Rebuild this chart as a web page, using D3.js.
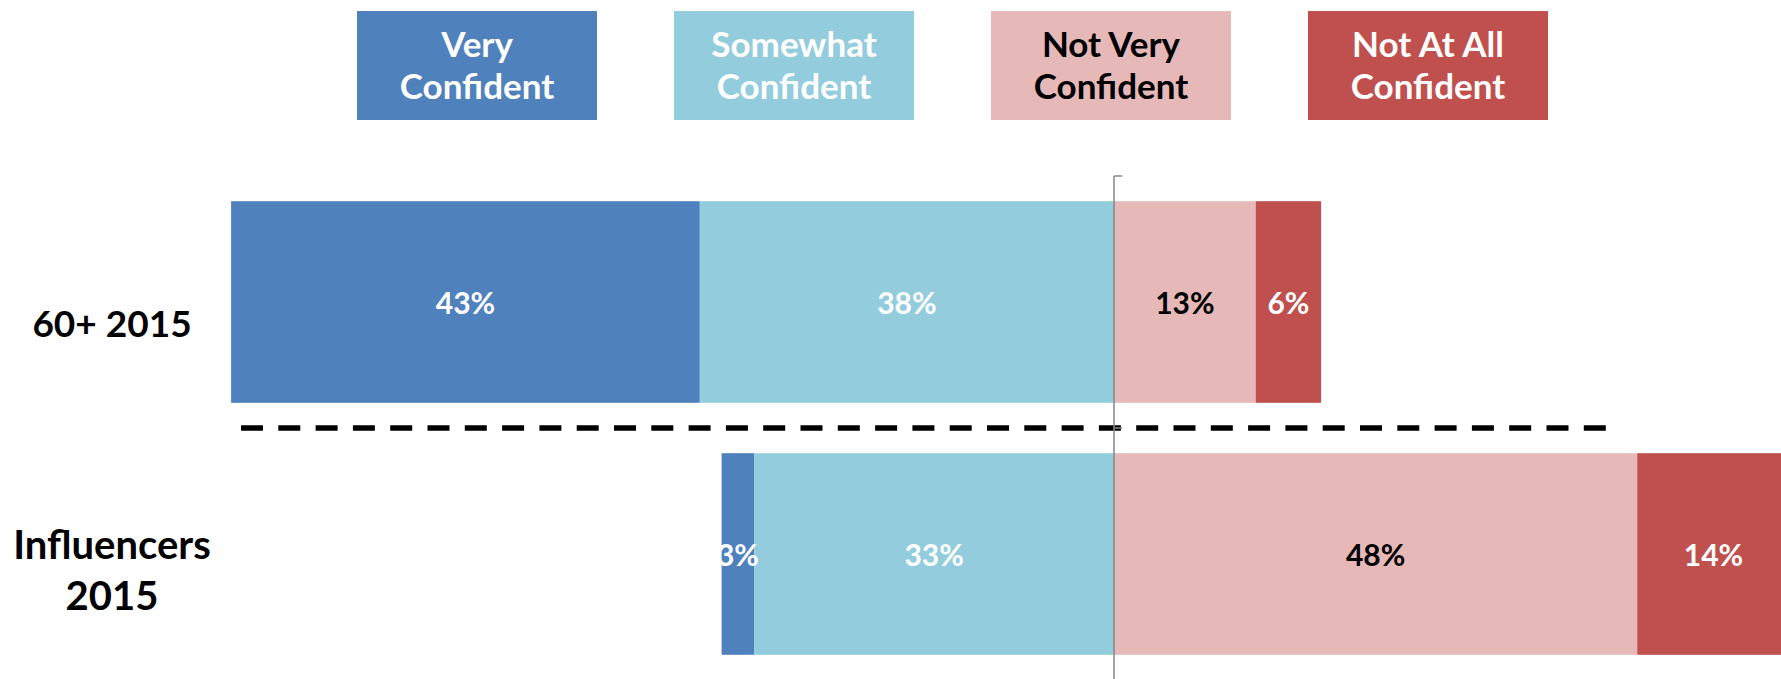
<!DOCTYPE html>
<html>
<head>
<meta charset="utf-8">
<script src="https://cdn.jsdelivr.net/npm/d3@7"></script>
<style>
body { margin:0; background:white; }
</style>
</head>
<body>
<script>
var canvaswidth=1781;
var canvasheight=679;

var categories=["60+ 2015","Influencers 2015"];
var categoryLines=[["60+ 2015"],["Influencers","2015"]];
var responses=["Very Confident","Somewhat Confident","Not Very Confident","Not At All Confident"];
var legendLines=[["Very","Confident"],["Somewhat","Confident"],["Not Very","Confident"],["Not At All","Confident"]];
var veryConfident=[43,3];
var somewhatConfident=[38,33];
var notVeryConfident=[13,48];
var notAtAllConfident=[6,14];

var colors=["#4f81bd","#93cddd","#e6b9b8","#c0504d"];
var textcolors=["white","white","black","white"];

var svg=d3.select("body").append("svg")
	.attr("width",canvaswidth)
	.attr("height",canvasheight);

var x=d3.scaleLinear().domain([-100,100]).range([1114-1090,1114+1090]);
var y=d3.scaleBand().domain(categories).range([176,680]).paddingInner(0.2).paddingOuter(0.1);

// build segments: confident side goes left of zero, not confident to the right
var segs=[];
categories.forEach(function(c,i) {
	var vc=veryConfident[i],sc=somewhatConfident[i],nv=notVeryConfident[i],na=notAtAllConfident[i];
	segs.push({cat:c,k:0,v:vc,x0:-(sc+vc),x1:-sc});
	segs.push({cat:c,k:1,v:sc,x0:-sc,x1:0});
	segs.push({cat:c,k:2,v:nv,x0:0,x1:nv});
	segs.push({cat:c,k:3,v:na,x0:nv,x1:nv+na});
});

svg.selectAll("rect.seg").data(segs).enter().append("rect").attr("class","seg")
	.attr("x",function(d){return x(d.x0);})
	.attr("y",function(d){return y(d.cat);})
	.attr("width",function(d){return x(d.x1)-x(d.x0);})
	.attr("height",y.bandwidth())
	.attr("fill",function(d){return colors[d.k];});

svg.selectAll("text.val").data(segs).enter().append("text").attr("class","val")
	.text(function(d){return d.v+"%";})
	.attr("x",function(d){return (x(d.x0)+x(d.x1))/2;})
	.attr("y",function(d){return y(d.cat)+y.bandwidth()/2;})
	.attr("dy","0.4em")
	.attr("text-anchor","middle")
	.attr("fill",function(d){return textcolors[d.k];})
	.attr("font-family","Lato").attr("font-weight","bold").attr("font-size",30);

// dashed separator between the two groups
var sepY=y.range()[0]+y.step();
svg.append("line").attr("x1",241).attr("x2",1606).attr("y1",sepY).attr("y2",sepY)
	.attr("stroke","black").attr("stroke-width",5.5).attr("stroke-dasharray","22,15.3");

// centre axis with small ticks at category boundaries
var bounds=d3.range(categories.length+1).map(function(i){return y.range()[0]+i*y.step();});
svg.append("line").attr("x1",x(0)).attr("x2",x(0)).attr("y1",bounds[0]).attr("y2",bounds[bounds.length-1])
	.attr("stroke","#868686").attr("stroke-width",1.5);
svg.selectAll("line.tick").data(bounds).enter().append("line").attr("class","tick")
	.attr("x1",x(0)).attr("x2",x(0)+8).attr("y1",function(d){return d;}).attr("y2",function(d){return d;})
	.attr("stroke","#868686").attr("stroke-width",1.5);

// category labels
categories.forEach(function(c,i) {
	var lines=categoryLines[i];
	var yc=y(c)+y.bandwidth()/2;
	var first=yc+35-(lines.length-1)*30;
	var t=svg.append("text").attr("text-anchor","middle").attr("font-family","Lato").attr("font-weight","bold")
		.attr("font-size",lines.length>1?40:37).attr("fill","black");
	lines.forEach(function(l,j) {
		t.append("tspan").attr("x",112).attr("y",first+j*51).text(l);
	});
});

// legend boxes
var lx=d3.scalePoint().domain(responses).range([357,1308]);
responses.forEach(function(r,i) {
	svg.append("rect").attr("x",lx(r)).attr("y",11).attr("width",240).attr("height",109).attr("fill",colors[i]);
	var t=svg.append("text").attr("text-anchor","middle").attr("font-family","Lato").attr("font-weight","bold")
		.attr("font-size",35).attr("fill",textcolors[i]);
	legendLines[i].forEach(function(l,j) {
		t.append("tspan").attr("x",lx(r)+120).attr("y",57+j*42).text(l);
	});
});
</script>
</body>
</html>
